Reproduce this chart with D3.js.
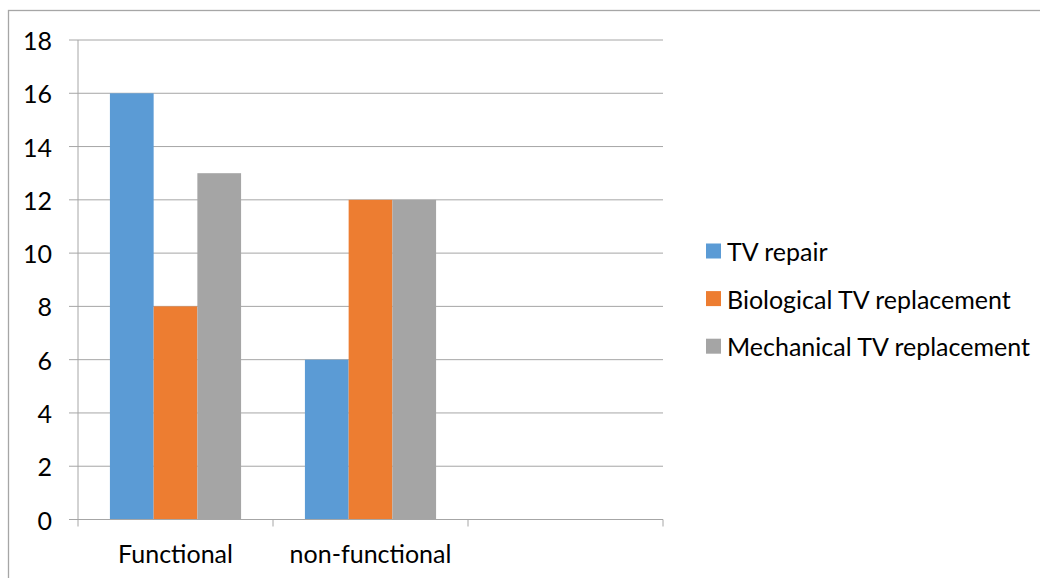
<!DOCTYPE html>
<html>
<head>
<meta charset="utf-8">
<script src="https://cdn.jsdelivr.net/npm/d3@7"></script>
<style>
  html, body { margin: 0; padding: 0; background: #fff; }
  svg { display: block; }
  text { font-family: Lato, "Open Sans", sans-serif; fill: #000; }
</style>
</head>
<body>
<svg id="chart" width="1040" height="578"></svg>
<script>
// Outcome counts per group
const categories = ["Functional", "non-functional", ""];
const seriesNames = ["TV repair", "Biological TV replacement", "Mechanical TV replacement"];
const tvRepair = [16, 6, null];
const biologicalTV = [8, 12, null];
const mechanicalTV = [13, 12, null];
const yTicks = [0, 2, 4, 6, 8, 10, 12, 14, 16, 18];
const colors = ["#5B9BD5", "#ED7D31", "#A5A5A5"];

const seriesValues = [tvRepair, biologicalTV, mechanicalTV];

const svg = d3.select("#chart");
const W = 1040, H = 578;
const plot = { left: 78, right: 663, top: 40, bottom: 519.5 };
const fontSize = "25px";

// chart frame
svg.append("rect")
  .attr("x", 8.5).attr("y", 10.5)
  .attr("width", W + 20).attr("height", H + 20)
  .attr("fill", "#fff").attr("stroke", "#a6a6a6").attr("stroke-width", 1.3);

const y = d3.scaleLinear().domain([0, 18]).range([plot.bottom, plot.top]);
const x0 = d3.scaleBand().domain(categories).range([plot.left, plot.right]).padding(0);
const x1 = d3.scaleBand().domain(seriesNames).range([0, x0.bandwidth()])
  .paddingInner(0).paddingOuter(0.73);

// horizontal gridlines with short outward ticks
const gridG = svg.append("g");
gridG.selectAll("line").data(yTicks.filter(d => d > 0)).join("line")
  .attr("x1", plot.left - 9).attr("x2", plot.right)
  .attr("y1", d => y(d)).attr("y2", d => y(d))
  .attr("stroke", "#a6a6a6").attr("stroke-width", 1);

// y-axis tick labels
svg.append("g").selectAll("text").data(yTicks).join("text")
  .attr("x", 52).attr("y", d => y(d))
  .attr("text-anchor", "end").attr("dominant-baseline", "central")
  .style("font-size", fontSize)
  .text(d => d);

// bars
const groups = svg.append("g").selectAll("g").data(categories).join("g")
  .attr("transform", d => `translate(${x0(d)},0)`);
groups.selectAll("rect")
  .data((c, ci) => seriesNames.map((s, si) => ({ s, si, v: seriesValues[si][ci] })).filter(d => d.v != null))
  .join("rect")
  .attr("x", d => x1(d.s)).attr("width", x1.bandwidth())
  .attr("y", d => y(d.v)).attr("height", d => y(0) - y(d.v))
  .attr("fill", d => colors[d.si]);

// y axis line
svg.append("line")
  .attr("x1", plot.left).attr("x2", plot.left)
  .attr("y1", plot.top).attr("y2", plot.bottom)
  .attr("stroke", "#a6a6a6").attr("stroke-width", 1);

// x axis baseline and category ticks
svg.append("line")
  .attr("x1", plot.left - 9).attr("x2", plot.right)
  .attr("y1", plot.bottom).attr("y2", plot.bottom)
  .attr("stroke", "#a6a6a6").attr("stroke-width", 1);
const tickXs = categories.map(c => x0(c)).concat([x0(categories[categories.length - 1]) + x0.bandwidth()]);
svg.append("g").selectAll("line").data(tickXs).join("line")
  .attr("x1", d => d).attr("x2", d => d)
  .attr("y1", plot.bottom).attr("y2", plot.bottom + 7)
  .attr("stroke", "#a6a6a6").attr("stroke-width", 1);

// category labels
svg.append("g").selectAll("text").data(categories).join("text")
  .attr("x", d => x0(d) + x0.bandwidth() / 2).attr("y", 553)
  .attr("text-anchor", "middle").attr("dominant-baseline", "central")
  .style("font-size", fontSize)
  .text(d => d);

// legend
const legend = svg.append("g").selectAll("g").data(seriesNames).join("g")
  .attr("transform", (d, i) => `translate(706,${251 + i * 47.6})`);
legend.append("rect")
  .attr("x", 0).attr("y", -7.5).attr("width", 15).attr("height", 15)
  .attr("fill", (d, i) => colors[i]);
legend.append("text")
  .attr("x", 21).attr("y", 0).attr("dominant-baseline", "central")
  .style("font-size", fontSize)
  .text(d => d);
</script>
</body>
</html>
